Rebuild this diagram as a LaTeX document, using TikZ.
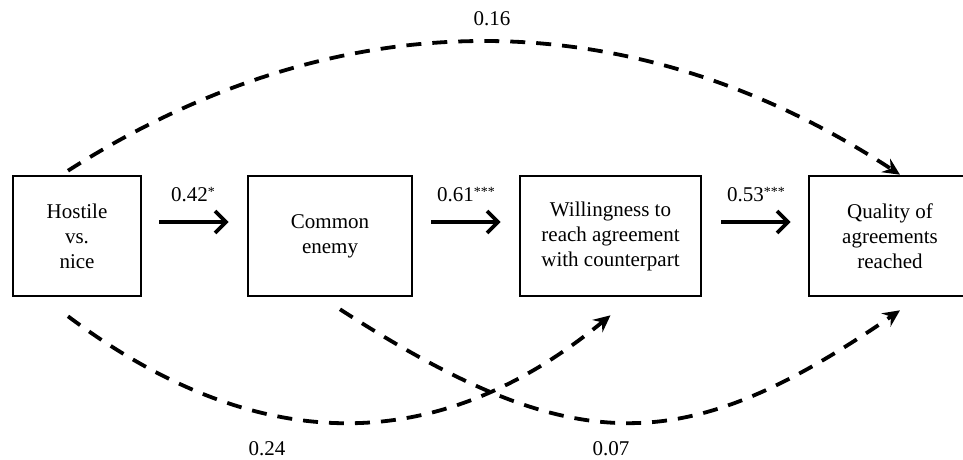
\documentclass[tikz,border=0pt]{standalone}
\usepackage{fontspec}
\setmainfont{Liberation Serif}
\usetikzlibrary{arrows.meta}
\newcommand{\sig}[1]{\raisebox{5pt}{\fontsize{14}{14}\selectfont #1}}
\begin{document}
\begin{tikzpicture}[x=1pt,y=-1pt,
  box/.style={draw,line width=2.6pt,inner sep=0pt,align=center,
    font=\fontsize{21}{25}\selectfont,minimum height=120pt},
  lbl/.style={font=\fontsize{21}{25}\selectfont,anchor=base,inner sep=0pt},
  solidarrow/.style={line width=3.8pt,-{Straight Barb[length=11pt,width=22pt]}},
  dasharrow/.style={line width=3.8pt,dash pattern=on 15pt off 11pt,
    -{Stealth[length=17pt,width=16pt,inset=6pt]}}]
\useasboundingbox (0,0) rectangle (963,459);
\clip (0,0) rectangle (963,459);
\node[box,minimum width=128pt] (b1) at (77,236) {Hostile\\vs.\\nice};
\node[box,minimum width=164pt] (b2) at (330,236) {Common\\enemy};
\node[box,minimum width=181pt] (b3) at (610.5,236) {Willingness to\\reach agreement\\with counterpart};
\node[box,minimum width=162pt] (b4) at (890,236) {Quality of\\agreements\\reached};
% straight arrows
\draw[solidarrow,shorten <=17pt,shorten >=18pt] ([yshift=14pt]b1.east) -- ([yshift=14pt]b2.west);
\draw[solidarrow,shorten <=18pt,shorten >=18pt] ([yshift=14pt]b2.east) -- ([yshift=14pt]b3.west);
\draw[solidarrow,shorten <=19pt,shorten >=17pt] ([yshift=14pt]b3.east) -- ([yshift=14pt]b4.west);
\node[lbl] (l1) at (193,201) {0.42\sig{*}};
\node[lbl] (l2) at (466,201) {0.61\sig{***}};
\node[lbl] (l3) at (756,201) {0.53\sig{***}};
% dashed curves
\coordinate (t0) at ([xshift=-9pt,yshift=4pt]b1.north);
\coordinate (t1) at ([xshift=10pt]b4.north);
\draw[dasharrow] (t0) .. controls (339,-2) and (629,-2) .. (t1);
\coordinate (u0) at ([xshift=-9pt,yshift=-19pt]b1.south);
\coordinate (u1) at ([xshift=0pt,yshift=-18pt]b3.south);
\draw[dasharrow] (u0) .. controls (258,458) and (437,458) .. (u1);
\coordinate (v0) at ([xshift=10pt,yshift=-12pt]b2.south);
\coordinate (v1) at ([xshift=10pt,yshift=-13pt]b4.south);
\draw[dasharrow] (v0) .. controls (574,460) and (683,460) .. (v1);
\node[lbl] (l4) at (492,25) {0.16};
\node[lbl] (l5) at (267,455) {0.24};
\node[lbl] (l6) at (611,455) {0.07};
\end{tikzpicture}
\end{document}
